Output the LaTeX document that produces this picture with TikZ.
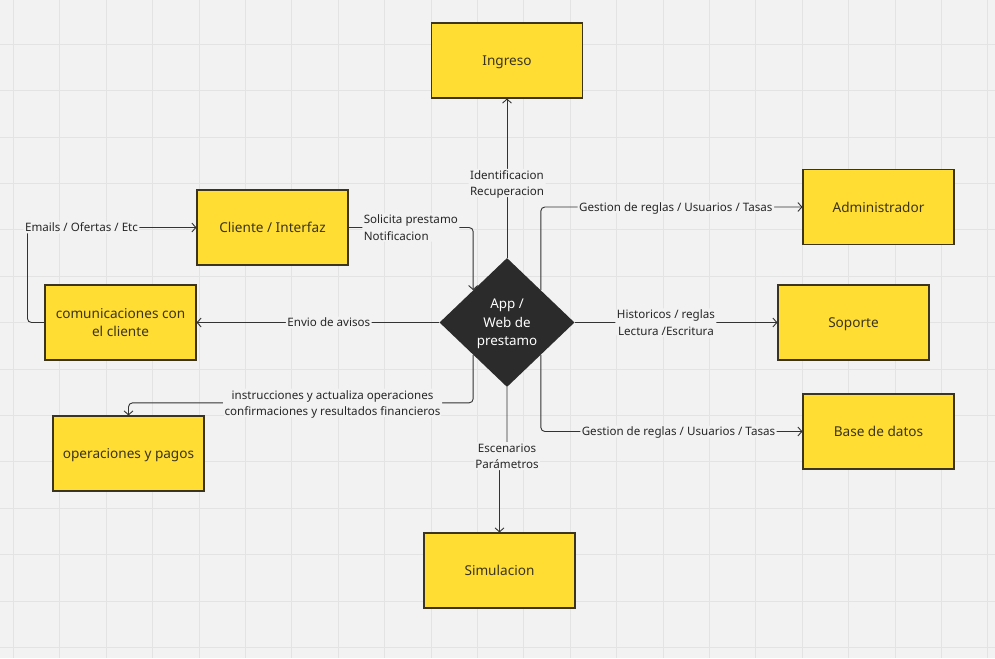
\documentclass[tikz,border=0pt]{standalone}
\usepackage{fontspec}
\setmainfont{Noto Sans}
\usetikzlibrary{arrows.meta,shapes.geometric,calc}

\definecolor{paper}{HTML}{F2F2F2}
\definecolor{gridln}{HTML}{E3E3E3}
\definecolor{boxfill}{HTML}{FFDD33}
\definecolor{boxedge}{HTML}{3A3420}
\definecolor{boxtext}{HTML}{3A3420}
\definecolor{ink}{HTML}{333333}
\definecolor{hubfill}{HTML}{2B2B2B}

\begin{document}
\begin{tikzpicture}[x=1pt,y=-1pt,
  box/.style={draw=boxedge, line width=1.1pt, fill=boxfill,
    minimum width=151pt, minimum height=75pt, inner sep=0pt,
    text depth=0pt, text=boxtext, align=center,
    font=\fontsize{13.6}{18.5}\selectfont},
  hub/.style={diamond, fill=hubfill, text=white, inner sep=0pt,
    minimum width=135pt, minimum height=129pt, align=center,
    text depth=0pt, font=\fontsize{13.4}{18.5}\selectfont},
  link/.style={draw=ink, line width=0.9pt, rounded corners=4pt,
    -{Straight Barb[length=4pt,width=9pt]}},
  tag/.style={fill=paper, inner sep=1.5pt, align=center, text=black!85,
    text depth=0pt, font=\fontsize{11.6}{16.5}\selectfont}]

% canvas and grid
\fill[paper] (0,0) rectangle (995,658);
\useasboundingbox (0,0) rectangle (995,658);
\foreach \i in {0,...,21}
  \draw[gridln, line width=1pt] ({13.5+46.4*\i},0) -- ({13.5+46.4*\i},658);
\foreach \j in {1,...,14}
  \draw[gridln, line width=1pt] (0,{-2.1+46.4*\j}) -- (995,{-2.1+46.4*\j});

% central hub
\node[hub] (hub) at (507,322.5) {App /\\Web de\\prestamo};
\coordinate (hubnw) at ($(hub.west)!0.5!(hub.north)$);
\coordinate (hubsw) at ($(hub.west)!0.5!(hub.south)$);
\coordinate (hubne) at ($(hub.north)!0.5!(hub.east)$);
\coordinate (hubse) at ($(hub.south)!0.5!(hub.east)$);

% blocks
\node[box] (ingreso) at (507,60.5) {Ingreso};
\node[box] (cliente) at (272.5,227.5) {Cliente / Interfaz};
\node[box] (comunic) at (120.5,322.5) {comunicaciones con\\el cliente};
\node[box] (operac) at (128.5,453.5) {operaciones y pagos};
\node[box] (admin) at (878.5,207) {Administrador};
\node[box] (soporte) at (853.5,322.5) {Soporte};
\node[box] (base) at (878.5,431.5) {Base de datos};
\node[box] (simul) at (499.5,570.5) {Simulacion};

% connectors
\draw[link] (hub.north) -- (ingreso.south)
  node[tag, pos=0.47] {Identificacion\\Recuperacion};
\draw[link] (cliente.east) -| (hubnw)
  node[tag, align=left, pos=0.25] {Solicita prestamo\\Notificacion};
\draw[link] (hub.west) -- (comunic.east)
  node[tag, pos=0.455] {Envio de avisos};
\draw[link] (comunic.west) -- ++(-17,0) |- (cliente.west)
  node[tag, pos=0.66] {Emails / Ofertas / Etc};
\draw[link] (hubsw) -- ++(0,48) -| (operac.north)
  node[tag, pos=0.204] {instrucciones y actualiza operaciones\\confirmaciones y resultados financieros};
\draw[link] (hub.south) -- ++(0,69)
  node[tag] {Escenarios\\Parámetros} -| (simul.north);
\draw[link] (hub.east) -- (soporte.west)
  node[tag, pos=0.45] {Historicos / reglas\\Lectura /Escritura};
\draw[link] (hubne) |- (admin.west)
  node[tag, pos=0.758] {Gestion de reglas / Usuarios / Tasas};
\draw[link] (hubse) |- (base.west)
  node[tag, pos=0.763] {Gestion de reglas / Usuarios / Tasas};
\end{tikzpicture}
\end{document}
